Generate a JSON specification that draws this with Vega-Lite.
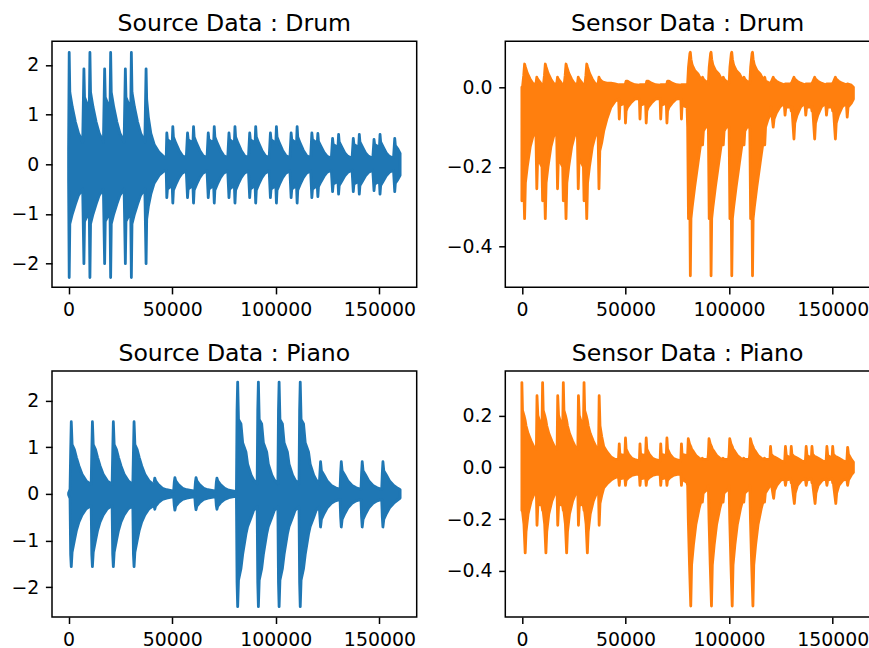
{
 "$schema": "https://vega.github.io/schema/vega-lite/v6.json",
 "autosize": {"type": "pad"},
 "padding": {"left": 10, "top": 11.3, "right": 0, "bottom": 0},
 "background": "white",
 "config": {
  "view": {"stroke": "black", "strokeWidth": 1.5},
  "font": "DejaVu Sans",
  "axis": {"domain": false, "grid": false, "tickColor": "black", "tickWidth": 1.5, "tickSize": 6.6, "labelFont": "DejaVu Sans", "labelFontSize": 18.9, "labelColor": "black", "labelPadding": 6.6, "labelFlush": false, "labelOverlap": false},
  "title": {"font": "DejaVu Sans", "fontSize": 23.6, "fontWeight": "normal", "color": "black", "baseline": "bottom", "offset": 5.6, "anchor": "middle", "frame": "group"}
 },
 "datasets": {
  "a": [
   {"x":0,"h":0.3,"l":-0.3},
   {"x":300,"h":2.25,"l":-2.28},{"x":600,"h":1.45,"l":-1.2},{"x":1800,"h":1.15,"l":-1.0},{"x":3300,"h":0.85,"l":-0.8},{"x":4800,"h":0.62,"l":-0.62},{"x":6800,"h":0.45,"l":-0.5},
   {"x":7400,"h":1.92,"l":-2.0},{"x":7700,"h":1.35,"l":-1.15},{"x":8900,"h":1.22,"l":-1.05},{"x":10000,"h":1.12,"l":-1.0},
   {"x":10300,"h":2.25,"l":-2.28},{"x":10600,"h":1.45,"l":-1.2},{"x":11800,"h":1.15,"l":-1.0},{"x":13300,"h":0.85,"l":-0.8},{"x":14800,"h":0.62,"l":-0.62},{"x":16800,"h":0.45,"l":-0.5},
   {"x":17400,"h":1.92,"l":-2.0},{"x":17700,"h":1.35,"l":-1.15},{"x":18900,"h":1.22,"l":-1.05},{"x":20000,"h":1.12,"l":-1.0},
   {"x":20300,"h":2.25,"l":-2.28},{"x":20600,"h":1.45,"l":-1.2},{"x":21800,"h":1.15,"l":-1.0},{"x":23300,"h":0.85,"l":-0.8},{"x":24800,"h":0.62,"l":-0.62},{"x":26800,"h":0.45,"l":-0.5},
   {"x":27400,"h":1.92,"l":-2.0},{"x":27700,"h":1.35,"l":-1.15},{"x":28900,"h":1.22,"l":-1.05},{"x":30000,"h":1.12,"l":-1.0},
   {"x":30300,"h":2.25,"l":-2.28},{"x":30600,"h":1.45,"l":-1.2},{"x":31800,"h":1.15,"l":-1.0},{"x":33300,"h":0.85,"l":-0.8},{"x":34800,"h":0.62,"l":-0.62},{"x":36800,"h":0.45,"l":-0.5},
   {"x":37400,"h":1.92,"l":-2.0},{"x":37700,"h":1.3,"l":-1.1},{"x":38500,"h":0.95,"l":-0.85},{"x":39700,"h":0.62,"l":-0.6},{"x":41300,"h":0.4,"l":-0.38},{"x":43700,"h":0.24,"l":-0.22},{"x":46000,"h":0.15,"l":-0.14},{"x":47100,"h":0.12,"l":-0.12},
   {"x":47400,"h":0.63,"l":-0.67},{"x":47700,"h":0.5,"l":-0.5},{"x":50000,"h":0.42,"l":-0.42},
   {"x":50300,"h":0.76,"l":-0.78},{"x":50600,"h":0.55,"l":-0.52},{"x":51800,"h":0.42,"l":-0.4},{"x":53300,"h":0.28,"l":-0.27},{"x":54800,"h":0.18,"l":-0.18},{"x":56800,"h":0.13,"l":-0.13},
   {"x":57400,"h":0.63,"l":-0.67},{"x":57700,"h":0.5,"l":-0.5},{"x":60000,"h":0.42,"l":-0.42},
   {"x":60300,"h":0.76,"l":-0.78},{"x":60600,"h":0.55,"l":-0.52},{"x":61800,"h":0.42,"l":-0.4},{"x":63300,"h":0.28,"l":-0.27},{"x":64800,"h":0.18,"l":-0.18},{"x":66800,"h":0.13,"l":-0.13},
   {"x":67400,"h":0.63,"l":-0.67},{"x":67700,"h":0.5,"l":-0.5},{"x":70000,"h":0.42,"l":-0.42},
   {"x":70300,"h":0.76,"l":-0.78},{"x":70600,"h":0.55,"l":-0.52},{"x":71800,"h":0.42,"l":-0.4},{"x":73300,"h":0.28,"l":-0.27},{"x":74800,"h":0.18,"l":-0.18},{"x":76800,"h":0.13,"l":-0.13},
   {"x":77400,"h":0.63,"l":-0.67},{"x":77700,"h":0.5,"l":-0.5},{"x":80000,"h":0.42,"l":-0.42},
   {"x":80300,"h":0.76,"l":-0.78},{"x":80600,"h":0.55,"l":-0.52},{"x":81800,"h":0.42,"l":-0.4},{"x":83300,"h":0.28,"l":-0.27},{"x":84800,"h":0.18,"l":-0.18},{"x":86800,"h":0.13,"l":-0.13},
   {"x":87400,"h":0.63,"l":-0.67},{"x":87700,"h":0.5,"l":-0.5},{"x":90000,"h":0.42,"l":-0.42},
   {"x":90300,"h":0.76,"l":-0.78},{"x":90600,"h":0.55,"l":-0.52},{"x":91800,"h":0.42,"l":-0.4},{"x":93300,"h":0.28,"l":-0.27},{"x":94800,"h":0.18,"l":-0.18},{"x":96800,"h":0.13,"l":-0.13},
   {"x":97400,"h":0.63,"l":-0.67},{"x":97700,"h":0.5,"l":-0.5},{"x":100000,"h":0.42,"l":-0.42},
   {"x":100300,"h":0.76,"l":-0.78},{"x":100600,"h":0.55,"l":-0.52},{"x":101800,"h":0.42,"l":-0.4},{"x":103300,"h":0.28,"l":-0.27},{"x":104800,"h":0.18,"l":-0.18},{"x":106800,"h":0.13,"l":-0.13},
   {"x":107400,"h":0.63,"l":-0.67},{"x":107700,"h":0.5,"l":-0.5},{"x":110000,"h":0.42,"l":-0.42},
   {"x":110300,"h":0.76,"l":-0.78},{"x":110600,"h":0.55,"l":-0.52},{"x":111800,"h":0.42,"l":-0.4},{"x":113300,"h":0.28,"l":-0.27},{"x":114800,"h":0.18,"l":-0.18},{"x":116800,"h":0.13,"l":-0.13},
   {"x":117400,"h":0.63,"l":-0.67},{"x":117700,"h":0.5,"l":-0.5},{"x":120000,"h":0.42,"l":-0.42},
   {"x":120300,"h":0.62,"l":-0.65},{"x":120600,"h":0.46,"l":-0.45},{"x":121800,"h":0.36,"l":-0.35},{"x":123300,"h":0.24,"l":-0.24},{"x":124800,"h":0.16,"l":-0.16},{"x":126800,"h":0.12,"l":-0.12},
   {"x":127400,"h":0.52,"l":-0.55},{"x":127700,"h":0.4,"l":-0.4},{"x":130000,"h":0.34,"l":-0.34},
   {"x":130300,"h":0.6,"l":-0.6},{"x":130600,"h":0.45,"l":-0.43},{"x":131800,"h":0.35,"l":-0.34},{"x":133300,"h":0.23,"l":-0.23},{"x":134800,"h":0.16,"l":-0.16},{"x":136800,"h":0.12,"l":-0.12},
   {"x":137400,"h":0.52,"l":-0.55},{"x":137700,"h":0.4,"l":-0.4},{"x":140000,"h":0.34,"l":-0.34},
   {"x":140300,"h":0.6,"l":-0.6},{"x":140600,"h":0.45,"l":-0.43},{"x":141800,"h":0.35,"l":-0.34},{"x":143300,"h":0.23,"l":-0.23},{"x":144800,"h":0.16,"l":-0.16},{"x":146800,"h":0.12,"l":-0.12},
   {"x":147400,"h":0.5,"l":-0.53},{"x":147700,"h":0.4,"l":-0.4},{"x":150000,"h":0.34,"l":-0.34},
   {"x":150300,"h":0.6,"l":-0.6},{"x":150600,"h":0.45,"l":-0.43},{"x":151800,"h":0.35,"l":-0.34},{"x":153300,"h":0.23,"l":-0.23},{"x":154800,"h":0.16,"l":-0.16},{"x":156800,"h":0.12,"l":-0.12},
   {"x":157400,"h":0.52,"l":-0.55},{"x":157700,"h":0.38,"l":-0.38},{"x":159000,"h":0.3,"l":-0.3},{"x":159999,"h":0.22,"l":-0.22}
  ],
  "b": [
   {"x":0,"h":0.0,"l":-0.285},{"x":300,"h":0.0,"l":-0.2},{"x":900,"h":0.03,"l":-0.24},{"x":1300,"h":0.058,"l":-0.33},{"x":1700,"h":0.05,"l":-0.24},{"x":2600,"h":0.035,"l":-0.2},{"x":4000,"h":0.02,"l":-0.15},{"x":5500,"h":0.008,"l":-0.12},{"x":6800,"h":0.008,"l":-0.12},{"x":7200,"h":0.025,"l":-0.255},{"x":7600,"h":0.02,"l":-0.18},{"x":8800,"h":0.012,"l":-0.19},{"x":9700,"h":0.005,"l":-0.2},
   {"x":10000,"h":0.0,"l":-0.285},{"x":10300,"h":0.0,"l":-0.2},{"x":10900,"h":0.03,"l":-0.24},{"x":11300,"h":0.058,"l":-0.33},{"x":11700,"h":0.05,"l":-0.24},{"x":12600,"h":0.035,"l":-0.2},{"x":14000,"h":0.02,"l":-0.15},{"x":15500,"h":0.008,"l":-0.12},{"x":16800,"h":0.008,"l":-0.12},{"x":17200,"h":0.025,"l":-0.255},{"x":17600,"h":0.02,"l":-0.18},{"x":18800,"h":0.012,"l":-0.19},{"x":19700,"h":0.005,"l":-0.2},
   {"x":20000,"h":0.0,"l":-0.285},{"x":20300,"h":0.0,"l":-0.2},{"x":20900,"h":0.03,"l":-0.24},{"x":21300,"h":0.058,"l":-0.33},{"x":21700,"h":0.05,"l":-0.24},{"x":22600,"h":0.035,"l":-0.2},{"x":24000,"h":0.02,"l":-0.15},{"x":25500,"h":0.008,"l":-0.12},{"x":26800,"h":0.008,"l":-0.12},{"x":27200,"h":0.025,"l":-0.255},{"x":27600,"h":0.02,"l":-0.18},{"x":28800,"h":0.012,"l":-0.19},{"x":29700,"h":0.005,"l":-0.2},
   {"x":30000,"h":0.0,"l":-0.285},{"x":30300,"h":0.0,"l":-0.2},{"x":30900,"h":0.03,"l":-0.24},{"x":31300,"h":0.058,"l":-0.33},{"x":31700,"h":0.05,"l":-0.24},{"x":32600,"h":0.035,"l":-0.2},{"x":34000,"h":0.02,"l":-0.15},{"x":35500,"h":0.008,"l":-0.12},{"x":36800,"h":0.008,"l":-0.12},{"x":37200,"h":0.025,"l":-0.255},
   {"x":37600,"h":0.02,"l":-0.16},{"x":38500,"h":0.015,"l":-0.14},{"x":39500,"h":0.012,"l":-0.11},{"x":41000,"h":0.01,"l":-0.08},{"x":43000,"h":0.01,"l":-0.05},{"x":45000,"h":0.008,"l":-0.035},{"x":46700,"h":0.006,"l":-0.03},
   {"x":47000,"h":0.006,"l":-0.08},{"x":47300,"h":0.006,"l":-0.045},{"x":49700,"h":0.006,"l":-0.04},
   {"x":50000,"h":0.01,"l":-0.09},{"x":50300,"h":0.015,"l":-0.06},{"x":51000,"h":0.015,"l":-0.05},{"x":52500,"h":0.01,"l":-0.04},{"x":54500,"h":0.006,"l":-0.03},{"x":56700,"h":0.005,"l":-0.028},
   {"x":57000,"h":0.006,"l":-0.08},{"x":57300,"h":0.006,"l":-0.045},{"x":59700,"h":0.006,"l":-0.04},
   {"x":60000,"h":0.01,"l":-0.09},{"x":60300,"h":0.015,"l":-0.06},{"x":61000,"h":0.015,"l":-0.05},{"x":62500,"h":0.01,"l":-0.04},{"x":64500,"h":0.006,"l":-0.03},{"x":66700,"h":0.005,"l":-0.028},
   {"x":67000,"h":0.006,"l":-0.08},{"x":67300,"h":0.006,"l":-0.045},{"x":69700,"h":0.006,"l":-0.04},
   {"x":70000,"h":0.01,"l":-0.09},{"x":70300,"h":0.015,"l":-0.06},{"x":71000,"h":0.015,"l":-0.05},{"x":72500,"h":0.01,"l":-0.04},{"x":74500,"h":0.006,"l":-0.03},{"x":76700,"h":0.005,"l":-0.028},
   {"x":77000,"h":0.006,"l":-0.08},{"x":77300,"h":0.006,"l":-0.045},{"x":79700,"h":0.006,"l":-0.05},
   {"x":80000,"h":0.01,"l":-0.1},{"x":80400,"h":0.05,"l":-0.33},{"x":81100,"h":0.085,"l":-0.33},{"x":81300,"h":0.0875,"l":-0.473},{"x":81600,"h":0.07,"l":-0.33},{"x":82200,"h":0.055,"l":-0.3},{"x":83400,"h":0.042,"l":-0.25},{"x":85000,"h":0.033,"l":-0.19},{"x":86600,"h":0.017,"l":-0.13},{"x":87200,"h":0.025,"l":-0.145},{"x":87600,"h":0.02,"l":-0.11},{"x":88600,"h":0.015,"l":-0.1},{"x":89700,"h":0.012,"l":-0.1},
   {"x":90000,"h":0.01,"l":-0.1},{"x":90400,"h":0.05,"l":-0.33},{"x":91100,"h":0.085,"l":-0.33},{"x":91300,"h":0.0875,"l":-0.473},{"x":91600,"h":0.07,"l":-0.33},{"x":92200,"h":0.055,"l":-0.3},{"x":93400,"h":0.042,"l":-0.25},{"x":95000,"h":0.033,"l":-0.19},{"x":96600,"h":0.017,"l":-0.13},{"x":97200,"h":0.025,"l":-0.145},{"x":97600,"h":0.02,"l":-0.11},{"x":98600,"h":0.015,"l":-0.1},{"x":99700,"h":0.012,"l":-0.1},
   {"x":100000,"h":0.01,"l":-0.1},{"x":100400,"h":0.05,"l":-0.33},{"x":101100,"h":0.085,"l":-0.33},{"x":101300,"h":0.0875,"l":-0.473},{"x":101600,"h":0.07,"l":-0.33},{"x":102200,"h":0.055,"l":-0.3},{"x":103400,"h":0.042,"l":-0.25},{"x":105000,"h":0.033,"l":-0.19},{"x":106600,"h":0.017,"l":-0.13},{"x":107200,"h":0.025,"l":-0.145},{"x":107600,"h":0.02,"l":-0.11},{"x":108600,"h":0.015,"l":-0.1},{"x":109700,"h":0.012,"l":-0.1},
   {"x":110000,"h":0.01,"l":-0.1},{"x":110400,"h":0.05,"l":-0.33},{"x":111100,"h":0.085,"l":-0.33},{"x":111300,"h":0.0875,"l":-0.473},{"x":111600,"h":0.07,"l":-0.33},{"x":112200,"h":0.055,"l":-0.3},{"x":113400,"h":0.042,"l":-0.25},{"x":115000,"h":0.033,"l":-0.19},{"x":116600,"h":0.017,"l":-0.13},{"x":117200,"h":0.025,"l":-0.145},
   {"x":117600,"h":0.015,"l":-0.1},{"x":118800,"h":0.012,"l":-0.08},{"x":119700,"h":0.01,"l":-0.07},
   {"x":120000,"h":0.01,"l":-0.06},{"x":120300,"h":0.012,"l":-0.05},{"x":121300,"h":0.025,"l":-0.1},{"x":121700,"h":0.02,"l":-0.08},{"x":122800,"h":0.015,"l":-0.065},{"x":124500,"h":0.01,"l":-0.05},{"x":126600,"h":0.006,"l":-0.04},{"x":127000,"h":0.008,"l":-0.07},{"x":127400,"h":0.008,"l":-0.05},{"x":129700,"h":0.008,"l":-0.05},
   {"x":130000,"h":0.01,"l":-0.06},{"x":130300,"h":0.012,"l":-0.05},{"x":131300,"h":0.025,"l":-0.13},{"x":131700,"h":0.02,"l":-0.09},{"x":132800,"h":0.015,"l":-0.07},{"x":134500,"h":0.01,"l":-0.05},{"x":136600,"h":0.006,"l":-0.04},{"x":137000,"h":0.008,"l":-0.07},{"x":137400,"h":0.008,"l":-0.05},{"x":139700,"h":0.008,"l":-0.05},
   {"x":140000,"h":0.01,"l":-0.06},{"x":140300,"h":0.012,"l":-0.05},{"x":141300,"h":0.025,"l":-0.13},{"x":141700,"h":0.02,"l":-0.09},{"x":142800,"h":0.015,"l":-0.07},{"x":144500,"h":0.01,"l":-0.05},{"x":146600,"h":0.006,"l":-0.04},{"x":147000,"h":0.008,"l":-0.07},{"x":147400,"h":0.008,"l":-0.05},{"x":149700,"h":0.008,"l":-0.05},
   {"x":150000,"h":0.01,"l":-0.06},{"x":150300,"h":0.012,"l":-0.05},{"x":151300,"h":0.025,"l":-0.13},{"x":151700,"h":0.02,"l":-0.09},{"x":152800,"h":0.015,"l":-0.07},{"x":154500,"h":0.01,"l":-0.05},{"x":156600,"h":0.006,"l":-0.04},{"x":157000,"h":0.008,"l":-0.075},{"x":157400,"h":0.008,"l":-0.05},{"x":159000,"h":0.005,"l":-0.04},{"x":159999,"h":0.0,"l":-0.03}
  ],
  "c": [
   {"x":0,"h":0.02,"l":-0.02},{"x":700,"h":0.1,"l":-0.1},
   {"x":1000,"h":0.9,"l":-1.3},{"x":1300,"h":1.55,"l":-1.56},{"x":1700,"h":1.06,"l":-1.25},{"x":2800,"h":0.95,"l":-1.0},{"x":3800,"h":0.78,"l":-0.78},{"x":5000,"h":0.6,"l":-0.6},{"x":6500,"h":0.42,"l":-0.45},{"x":8500,"h":0.28,"l":-0.32},{"x":10900,"h":0.2,"l":-0.25},
   {"x":11200,"h":0.9,"l":-1.3},{"x":11500,"h":1.55,"l":-1.56},{"x":11900,"h":1.06,"l":-1.25},{"x":13000,"h":0.95,"l":-1.0},{"x":14000,"h":0.78,"l":-0.78},{"x":15200,"h":0.6,"l":-0.6},{"x":16700,"h":0.42,"l":-0.45},{"x":18700,"h":0.28,"l":-0.32},{"x":21000,"h":0.2,"l":-0.25},
   {"x":21300,"h":0.9,"l":-1.3},{"x":21600,"h":1.55,"l":-1.56},{"x":22000,"h":1.06,"l":-1.25},{"x":23100,"h":0.95,"l":-1.0},{"x":24100,"h":0.78,"l":-0.78},{"x":25300,"h":0.6,"l":-0.6},{"x":26800,"h":0.42,"l":-0.45},{"x":28800,"h":0.28,"l":-0.32},{"x":31000,"h":0.2,"l":-0.25},
   {"x":31300,"h":0.9,"l":-1.3},{"x":31600,"h":1.55,"l":-1.56},{"x":32000,"h":1.06,"l":-1.25},{"x":33100,"h":0.95,"l":-1.0},{"x":34100,"h":0.78,"l":-0.78},{"x":35300,"h":0.6,"l":-0.6},{"x":36800,"h":0.42,"l":-0.45},{"x":38800,"h":0.28,"l":-0.32},{"x":41000,"h":0.2,"l":-0.25},
   {"x":41300,"h":0.25,"l":-0.25},{"x":41600,"h":0.34,"l":-0.33},{"x":42000,"h":0.28,"l":-0.26},{"x":43300,"h":0.2,"l":-0.19},{"x":45300,"h":0.12,"l":-0.12},{"x":47300,"h":0.09,"l":-0.09},{"x":50700,"h":0.06,"l":-0.06},
   {"x":51000,"h":0.25,"l":-0.25},{"x":51300,"h":0.35,"l":-0.35},{"x":51700,"h":0.28,"l":-0.26},{"x":53000,"h":0.2,"l":-0.19},{"x":55000,"h":0.12,"l":-0.12},{"x":57000,"h":0.09,"l":-0.09},{"x":60900,"h":0.06,"l":-0.06},
   {"x":61200,"h":0.25,"l":-0.25},{"x":61500,"h":0.35,"l":-0.34},{"x":61900,"h":0.28,"l":-0.26},{"x":63200,"h":0.2,"l":-0.19},{"x":65200,"h":0.12,"l":-0.12},{"x":67200,"h":0.09,"l":-0.09},{"x":71000,"h":0.06,"l":-0.06},
   {"x":71300,"h":0.25,"l":-0.25},{"x":71600,"h":0.34,"l":-0.33},{"x":72000,"h":0.28,"l":-0.26},{"x":73300,"h":0.2,"l":-0.19},{"x":75300,"h":0.12,"l":-0.12},{"x":77300,"h":0.08,"l":-0.08},{"x":81000,"h":0.05,"l":-0.05},
   {"x":81300,"h":1.8,"l":-1.9},{"x":81600,"h":2.4,"l":-2.42},{"x":82000,"h":1.6,"l":-1.85},{"x":83200,"h":1.5,"l":-1.6},{"x":84000,"h":1.1,"l":-1.3},{"x":85600,"h":0.9,"l":-0.86},{"x":86400,"h":0.64,"l":-0.7},{"x":88100,"h":0.4,"l":-0.5},{"x":89300,"h":0.3,"l":-0.35},{"x":91000,"h":0.22,"l":-0.28},
   {"x":91300,"h":1.8,"l":-1.9},{"x":91600,"h":2.4,"l":-2.42},{"x":92000,"h":1.6,"l":-1.85},{"x":93200,"h":1.5,"l":-1.6},{"x":94000,"h":1.1,"l":-1.3},{"x":95600,"h":0.9,"l":-0.86},{"x":96400,"h":0.64,"l":-0.7},{"x":98100,"h":0.4,"l":-0.5},{"x":99300,"h":0.3,"l":-0.35},{"x":101000,"h":0.22,"l":-0.28},
   {"x":101300,"h":1.8,"l":-1.9},{"x":101600,"h":2.4,"l":-2.42},{"x":102000,"h":1.6,"l":-1.85},{"x":103200,"h":1.5,"l":-1.6},{"x":104000,"h":1.1,"l":-1.3},{"x":105600,"h":0.9,"l":-0.86},{"x":106400,"h":0.64,"l":-0.7},{"x":108100,"h":0.4,"l":-0.5},{"x":109300,"h":0.3,"l":-0.35},{"x":111200,"h":0.22,"l":-0.28},
   {"x":111500,"h":1.8,"l":-1.9},{"x":111800,"h":2.4,"l":-2.42},{"x":112200,"h":1.6,"l":-1.85},{"x":113400,"h":1.5,"l":-1.6},{"x":114200,"h":1.1,"l":-1.3},{"x":115800,"h":0.9,"l":-0.86},{"x":116600,"h":0.64,"l":-0.7},{"x":118300,"h":0.4,"l":-0.5},{"x":119500,"h":0.3,"l":-0.35},{"x":121000,"h":0.22,"l":-0.28},
   {"x":121300,"h":0.45,"l":-0.5},{"x":121600,"h":0.69,"l":-0.71},{"x":122000,"h":0.5,"l":-0.55},{"x":123300,"h":0.4,"l":-0.42},{"x":124800,"h":0.28,"l":-0.3},{"x":126800,"h":0.18,"l":-0.2},{"x":128800,"h":0.13,"l":-0.15},{"x":131000,"h":0.1,"l":-0.12},
   {"x":131300,"h":0.45,"l":-0.5},{"x":131600,"h":0.69,"l":-0.71},{"x":132000,"h":0.5,"l":-0.55},{"x":133300,"h":0.4,"l":-0.42},{"x":134800,"h":0.28,"l":-0.3},{"x":136800,"h":0.18,"l":-0.2},{"x":138800,"h":0.13,"l":-0.15},{"x":141100,"h":0.1,"l":-0.12},
   {"x":141400,"h":0.45,"l":-0.5},{"x":141700,"h":0.69,"l":-0.71},{"x":142100,"h":0.5,"l":-0.55},{"x":143400,"h":0.4,"l":-0.42},{"x":144900,"h":0.28,"l":-0.3},{"x":146900,"h":0.18,"l":-0.2},{"x":148900,"h":0.13,"l":-0.15},{"x":151100,"h":0.1,"l":-0.12},
   {"x":151400,"h":0.45,"l":-0.5},{"x":151700,"h":0.69,"l":-0.71},{"x":152100,"h":0.5,"l":-0.55},{"x":153400,"h":0.4,"l":-0.42},{"x":154900,"h":0.28,"l":-0.3},{"x":156900,"h":0.18,"l":-0.2},{"x":158900,"h":0.12,"l":-0.13},{"x":159999,"h":0.09,"l":-0.09}
  ],
  "d": [
   {"x":0,"h":0.327,"l":-0.167},{"x":300,"h":0.22,"l":-0.17},{"x":1000,"h":0.2,"l":-0.22},{"x":1600,"h":0.18,"l":-0.331},{"x":2000,"h":0.16,"l":-0.25},{"x":3000,"h":0.13,"l":-0.18},{"x":4500,"h":0.1,"l":-0.13},{"x":6000,"h":0.075,"l":-0.1},{"x":7000,"h":0.07,"l":-0.1},{"x":7300,"h":0.276,"l":-0.224},{"x":7700,"h":0.2,"l":-0.15},{"x":8800,"h":0.17,"l":-0.14},{"x":9700,"h":0.15,"l":-0.15},
   {"x":10000,"h":0.327,"l":-0.167},{"x":10300,"h":0.22,"l":-0.17},{"x":11000,"h":0.2,"l":-0.22},{"x":11600,"h":0.18,"l":-0.331},{"x":12000,"h":0.16,"l":-0.25},{"x":13000,"h":0.13,"l":-0.18},{"x":14500,"h":0.1,"l":-0.13},{"x":16000,"h":0.075,"l":-0.1},{"x":17000,"h":0.07,"l":-0.1},{"x":17300,"h":0.276,"l":-0.224},{"x":17700,"h":0.2,"l":-0.15},{"x":18800,"h":0.17,"l":-0.14},{"x":19700,"h":0.15,"l":-0.15},
   {"x":20000,"h":0.327,"l":-0.167},{"x":20300,"h":0.22,"l":-0.17},{"x":21000,"h":0.2,"l":-0.22},{"x":21600,"h":0.18,"l":-0.331},{"x":22000,"h":0.16,"l":-0.25},{"x":23000,"h":0.13,"l":-0.18},{"x":24500,"h":0.1,"l":-0.13},{"x":26000,"h":0.075,"l":-0.1},{"x":27000,"h":0.07,"l":-0.1},{"x":27300,"h":0.276,"l":-0.224},{"x":27700,"h":0.2,"l":-0.15},{"x":28800,"h":0.17,"l":-0.14},{"x":29700,"h":0.15,"l":-0.15},
   {"x":30000,"h":0.327,"l":-0.167},{"x":30300,"h":0.22,"l":-0.17},{"x":31000,"h":0.2,"l":-0.22},{"x":31600,"h":0.18,"l":-0.331},{"x":32000,"h":0.16,"l":-0.25},{"x":33000,"h":0.13,"l":-0.18},{"x":34500,"h":0.1,"l":-0.13},{"x":36000,"h":0.075,"l":-0.1},{"x":37000,"h":0.07,"l":-0.1},{"x":37300,"h":0.276,"l":-0.224},
   {"x":37700,"h":0.16,"l":-0.14},{"x":38500,"h":0.12,"l":-0.11},{"x":39500,"h":0.08,"l":-0.08},{"x":41000,"h":0.06,"l":-0.065},{"x":43000,"h":0.04,"l":-0.05},{"x":45000,"h":0.03,"l":-0.04},{"x":46600,"h":0.03,"l":-0.035},
   {"x":47000,"h":0.09,"l":-0.07},{"x":47300,"h":0.05,"l":-0.045},{"x":49700,"h":0.045,"l":-0.04},
   {"x":50000,"h":0.113,"l":-0.07},{"x":50300,"h":0.07,"l":-0.05},{"x":51500,"h":0.05,"l":-0.04},{"x":53000,"h":0.035,"l":-0.032},{"x":55000,"h":0.028,"l":-0.028},{"x":56700,"h":0.025,"l":-0.027},
   {"x":57000,"h":0.09,"l":-0.07},{"x":57300,"h":0.05,"l":-0.045},{"x":59700,"h":0.045,"l":-0.04},
   {"x":60000,"h":0.113,"l":-0.07},{"x":60300,"h":0.07,"l":-0.05},{"x":61500,"h":0.05,"l":-0.04},{"x":63000,"h":0.035,"l":-0.032},{"x":65000,"h":0.028,"l":-0.028},{"x":66700,"h":0.025,"l":-0.027},
   {"x":67000,"h":0.09,"l":-0.07},{"x":67300,"h":0.05,"l":-0.045},{"x":69700,"h":0.045,"l":-0.04},
   {"x":70000,"h":0.113,"l":-0.07},{"x":70300,"h":0.07,"l":-0.05},{"x":71500,"h":0.05,"l":-0.04},{"x":73000,"h":0.035,"l":-0.032},{"x":75000,"h":0.028,"l":-0.028},{"x":76700,"h":0.025,"l":-0.027},
   {"x":77000,"h":0.09,"l":-0.07},{"x":77300,"h":0.05,"l":-0.045},{"x":79700,"h":0.045,"l":-0.06},
   {"x":80000,"h":0.05,"l":-0.07},{"x":80300,"h":0.11,"l":-0.2},{"x":80900,"h":0.09,"l":-0.378},{"x":81500,"h":0.08,"l":-0.536},{"x":81900,"h":0.07,"l":-0.378},{"x":82800,"h":0.06,"l":-0.3},{"x":84000,"h":0.045,"l":-0.22},{"x":85500,"h":0.035,"l":-0.16},{"x":86800,"h":0.03,"l":-0.12},{"x":87100,"h":0.035,"l":-0.135},{"x":87500,"h":0.03,"l":-0.1},{"x":88800,"h":0.03,"l":-0.09},{"x":89700,"h":0.03,"l":-0.085},
   {"x":90000,"h":0.05,"l":-0.07},{"x":90300,"h":0.11,"l":-0.2},{"x":90900,"h":0.09,"l":-0.378},{"x":91500,"h":0.08,"l":-0.536},{"x":91900,"h":0.07,"l":-0.378},{"x":92800,"h":0.06,"l":-0.3},{"x":94000,"h":0.045,"l":-0.22},{"x":95500,"h":0.035,"l":-0.16},{"x":96800,"h":0.03,"l":-0.12},{"x":97100,"h":0.035,"l":-0.135},{"x":97500,"h":0.03,"l":-0.1},{"x":98800,"h":0.03,"l":-0.09},{"x":99700,"h":0.03,"l":-0.085},
   {"x":100000,"h":0.05,"l":-0.07},{"x":100300,"h":0.11,"l":-0.2},{"x":100900,"h":0.09,"l":-0.378},{"x":101500,"h":0.08,"l":-0.536},{"x":101900,"h":0.07,"l":-0.378},{"x":102800,"h":0.06,"l":-0.3},{"x":104000,"h":0.045,"l":-0.22},{"x":105500,"h":0.035,"l":-0.16},{"x":106800,"h":0.03,"l":-0.12},{"x":107100,"h":0.035,"l":-0.135},{"x":107500,"h":0.03,"l":-0.1},{"x":108800,"h":0.03,"l":-0.09},{"x":109700,"h":0.03,"l":-0.085},
   {"x":110000,"h":0.05,"l":-0.07},{"x":110300,"h":0.11,"l":-0.2},{"x":110900,"h":0.09,"l":-0.378},{"x":111500,"h":0.08,"l":-0.536},{"x":111900,"h":0.07,"l":-0.378},{"x":112800,"h":0.06,"l":-0.3},{"x":114000,"h":0.045,"l":-0.22},{"x":115500,"h":0.035,"l":-0.16},{"x":116800,"h":0.03,"l":-0.12},{"x":117100,"h":0.035,"l":-0.135},{"x":117500,"h":0.03,"l":-0.1},{"x":119000,"h":0.03,"l":-0.08},{"x":119700,"h":0.03,"l":-0.07},
   {"x":120000,"h":0.08,"l":-0.06},{"x":120300,"h":0.05,"l":-0.06},{"x":121500,"h":0.04,"l":-0.12},{"x":121900,"h":0.04,"l":-0.09},{"x":123000,"h":0.035,"l":-0.07},{"x":125000,"h":0.025,"l":-0.05},{"x":126800,"h":0.02,"l":-0.045},{"x":127200,"h":0.08,"l":-0.07},{"x":127600,"h":0.045,"l":-0.05},{"x":129700,"h":0.035,"l":-0.045},
   {"x":130000,"h":0.08,"l":-0.06},{"x":130300,"h":0.05,"l":-0.06},{"x":131500,"h":0.04,"l":-0.14},{"x":131900,"h":0.04,"l":-0.1},{"x":133000,"h":0.035,"l":-0.07},{"x":135000,"h":0.025,"l":-0.05},{"x":136800,"h":0.02,"l":-0.045},{"x":137200,"h":0.08,"l":-0.07},{"x":137600,"h":0.045,"l":-0.05},{"x":139700,"h":0.035,"l":-0.045},
   {"x":140000,"h":0.08,"l":-0.06},{"x":140300,"h":0.05,"l":-0.06},{"x":141500,"h":0.04,"l":-0.14},{"x":141900,"h":0.04,"l":-0.1},{"x":143000,"h":0.035,"l":-0.07},{"x":145000,"h":0.025,"l":-0.05},{"x":146800,"h":0.02,"l":-0.045},{"x":147200,"h":0.08,"l":-0.07},{"x":147600,"h":0.045,"l":-0.05},{"x":149700,"h":0.035,"l":-0.045},
   {"x":150000,"h":0.08,"l":-0.06},{"x":150300,"h":0.05,"l":-0.06},{"x":151500,"h":0.04,"l":-0.14},{"x":151900,"h":0.04,"l":-0.1},{"x":153000,"h":0.035,"l":-0.07},{"x":155000,"h":0.025,"l":-0.05},{"x":156800,"h":0.02,"l":-0.045},{"x":157200,"h":0.077,"l":-0.07},{"x":157600,"h":0.05,"l":-0.05},{"x":159000,"h":0.03,"l":-0.03},{"x":159999,"h":0.02,"l":-0.02}
  ]
 },
 "concat": [
  {
   "width": 364.7, "height": 246,
   "title": "Source Data : Drum",
   "data": {"name": "a"},
   "mark": {"type": "area", "fill": "#1f77b4", "stroke": "#1f77b4", "strokeWidth": 2.8, "strokeJoin": "round", "fillOpacity": 1},
   "encoding": {
    "x": {"field": "x", "type": "quantitative", "scale": {"domain": [-8000, 168000], "nice": false, "zero": false}, "axis": {"values": [0, 50000, 100000, 150000], "format": "d", "title": null}},
    "y": {"field": "h", "type": "quantitative", "scale": {"domain": [-2.475, 2.475], "nice": false, "zero": false}, "axis": {"values": [-2, -1, 0, 1, 2], "format": "d", "title": null}},
    "y2": {"field": "l"}
   }
  },
  {
   "width": 364.7, "height": 246,
   "title": "Sensor Data : Drum",
   "data": {"name": "b"},
   "mark": {"type": "area", "fill": "#ff7f0e", "stroke": "#ff7f0e", "strokeWidth": 2.8, "strokeJoin": "round", "fillOpacity": 1},
   "encoding": {
    "x": {"field": "x", "type": "quantitative", "scale": {"domain": [-8000, 168000], "nice": false, "zero": false}, "axis": {"values": [0, 50000, 100000, 150000], "format": "d", "title": null}},
    "y": {"field": "h", "type": "quantitative", "scale": {"domain": [-0.502, 0.115], "nice": false, "zero": false}, "axis": {"values": [-0.4, -0.2, 0.0], "format": ".1f", "title": null}},
    "y2": {"field": "l"}
   }
  },
  {
   "width": 364.7, "height": 246,
   "title": "Source Data : Piano",
   "data": {"name": "c"},
   "mark": {"type": "area", "fill": "#1f77b4", "stroke": "#1f77b4", "strokeWidth": 2.8, "strokeJoin": "round", "fillOpacity": 1},
   "encoding": {
    "x": {"field": "x", "type": "quantitative", "scale": {"domain": [-8000, 168000], "nice": false, "zero": false}, "axis": {"values": [0, 50000, 100000, 150000], "format": "d", "title": null}},
    "y": {"field": "h", "type": "quantitative", "scale": {"domain": [-2.64, 2.64], "nice": false, "zero": false}, "axis": {"values": [-2, -1, 0, 1, 2], "format": "d", "title": null}},
    "y2": {"field": "l"}
   }
  },
  {
   "width": 364.7, "height": 246,
   "title": "Sensor Data : Piano",
   "data": {"name": "d"},
   "mark": {"type": "area", "fill": "#ff7f0e", "stroke": "#ff7f0e", "strokeWidth": 2.8, "strokeJoin": "round", "fillOpacity": 1},
   "encoding": {
    "x": {"field": "x", "type": "quantitative", "scale": {"domain": [-8000, 168000], "nice": false, "zero": false}, "axis": {"values": [0, 50000, 100000, 150000], "format": "d", "title": null}},
    "y": {"field": "h", "type": "quantitative", "scale": {"domain": [-0.578, 0.372], "nice": false, "zero": false}, "axis": {"values": [-0.4, -0.2, 0.0, 0.2], "format": ".1f", "title": null}},
    "y2": {"field": "l"}
   }
  }
 ],
 "columns": 2,
 "spacing": {"row": 83.6, "column": 88.3},
 "bounds": "flush"
}
